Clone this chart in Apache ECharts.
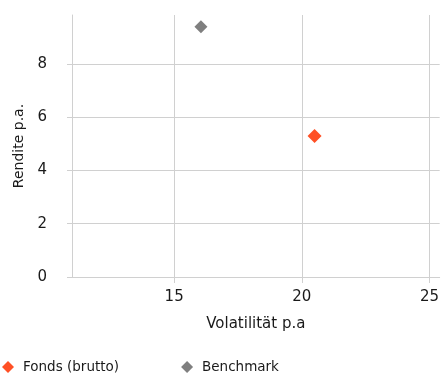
<!DOCTYPE html>
<html>
<head>
<meta charset="utf-8">
<script src="https://cdn.jsdelivr.net/npm/echarts@6/dist/echarts.min.js"></script>
<style>
  html, body { margin: 0; padding: 0; background: #fff; }
  #chart { width: 442px; height: 377px; }
</style>
</head>
<body>
<div id="chart"></div>
<script>
// Risk / return points: [volatility p.a., return p.a.]
const seriesNames = ['Fonds (brutto)', 'Benchmark'];
const fondsPoint = [20.5, 5.3];
const benchmarkPoint = [16.05, 9.4];
const xTicks = [15, 20, 25];
const yTicks = [0, 2, 4, 6, 8];

const FONT = 'DejaVu Sans';
const gridColor = '#d0d0d0';
const textColor = '#1a1a1a';

const chart = echarts.init(document.getElementById('chart'));
chart.setOption({
  animation: false,
  textStyle: { fontFamily: FONT },
  grid: { left: 72, right: 0, top: 15, bottom: 100 },
  legend: {
    left: 2,
    bottom: 3,
    padding: 0,
    itemWidth: 12,
    itemHeight: 12,
    itemGap: 62,
    icon: 'diamond',
    textStyle: { fontFamily: FONT, fontSize: 13.5, color: textColor, padding: [0, 0, 0, 4] },
    data: seriesNames
  },
  xAxis: {
    type: 'value',
    min: 11,
    max: 25.4,
    name: 'Volatilität p.a',
    nameLocation: 'middle',
    nameGap: 40,
    nameTextStyle: { fontFamily: FONT, fontSize: 15, color: textColor },
    axisLine: { show: true, lineStyle: { color: gridColor } },
    axisTick: { show: true, length: 6, customValues: xTicks, lineStyle: { color: gridColor } },
    axisLabel: { customValues: xTicks, margin: 13, fontFamily: FONT, fontSize: 15, color: textColor },
    splitLine: { show: true, customValues: xTicks, lineStyle: { color: gridColor } }
  },
  yAxis: {
    type: 'value',
    min: 0,
    max: 9.84,
    name: 'Rendite p.a.',
    nameLocation: 'middle',
    nameGap: 46,
    nameTextStyle: { fontFamily: FONT, fontSize: 14, color: textColor },
    axisLine: { show: true, lineStyle: { color: gridColor } },
    axisTick: { show: true, length: 5, customValues: yTicks, lineStyle: { color: gridColor } },
    axisLabel: { customValues: yTicks, margin: 25, fontFamily: FONT, fontSize: 15, color: textColor },
    splitLine: { show: true, customValues: yTicks, lineStyle: { color: gridColor } }
  },
  series: [
    {
      name: seriesNames[0],
      type: 'scatter',
      symbol: 'diamond',
      symbolSize: 14,
      itemStyle: { color: '#ff5025', opacity: 1 },
      data: [fondsPoint]
    },
    {
      name: seriesNames[1],
      type: 'scatter',
      symbol: 'diamond',
      symbolSize: 13,
      itemStyle: { color: '#7f7f7f', opacity: 1 },
      data: [benchmarkPoint]
    }
  ]
});
</script>
</body>
</html>
